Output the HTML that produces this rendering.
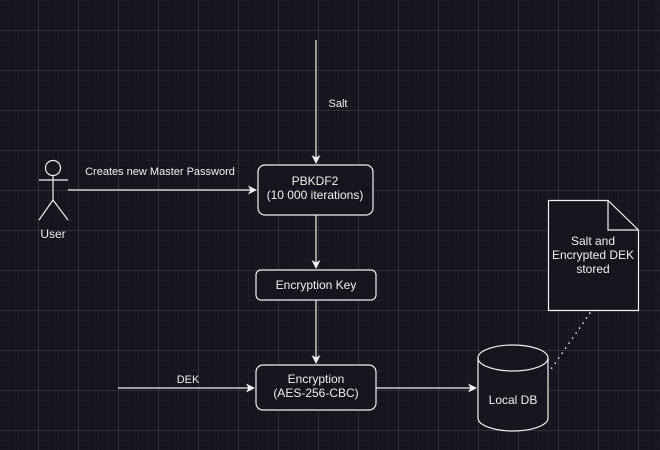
<!DOCTYPE html>
<html><head><meta charset="utf-8"><style>
html,body{margin:0;padding:0;background:#18141d;}
svg{display:block}
text{font-family:"Liberation Sans",Arial,sans-serif;fill:#f0f0f0;}
</style></head><body>
<svg width="660" height="450" viewBox="0 0 660 450" xmlns="http://www.w3.org/2000/svg">
<defs>
<pattern id="minor" x="-2" y="0" width="10" height="10" patternUnits="userSpaceOnUse">
<path d="M0 0H10M0 0V10" stroke="#26222b" stroke-width="1" fill="none"/>
</pattern>
<pattern id="major" x="38" y="30" width="40" height="40" patternUnits="userSpaceOnUse">
<path d="M0 0.5H40M0.5 0V40" stroke="#332f38" stroke-width="1" fill="none"/>
</pattern>
<marker id="ar" markerWidth="10" markerHeight="10" refX="8" refY="5" orient="auto" markerUnits="userSpaceOnUse">
<path d="M0 0.5L9 5L0 9.5L2.5 5Z" fill="#f0f0f0"/>
</marker>
</defs>
<rect width="660" height="450" fill="#18141d"/>
<rect width="660" height="450" fill="url(#minor)"/>
<rect width="660" height="450" fill="url(#major)"/>

<g stroke="#f0f0f0" stroke-width="1.2" fill="none">
<line x1="316" y1="40" x2="316" y2="163" marker-end="url(#ar)"/>
<line x1="68" y1="190" x2="256" y2="190" marker-end="url(#ar)"/>
<line x1="316" y1="215" x2="316" y2="268" marker-end="url(#ar)"/>
<line x1="316" y1="300" x2="316" y2="363" marker-end="url(#ar)"/>
<line x1="118" y1="388" x2="254" y2="388" marker-end="url(#ar)"/>
<line x1="376" y1="388" x2="476" y2="388" marker-end="url(#ar)"/>
</g>

<rect x="258" y="165" width="115" height="50" rx="7" fill="#18141d" stroke="#f0f0f0" stroke-width="1.2"/>
<rect x="256" y="270" width="120" height="30" rx="5" fill="#18141d" stroke="#f0f0f0" stroke-width="1.2"/>
<rect x="256" y="365" width="120" height="45" rx="7" fill="#18141d" stroke="#f0f0f0" stroke-width="1.2"/>

<g stroke="#f0f0f0" stroke-width="1.2" fill="none">
<circle cx="53" cy="168" r="7.5"/>
<line x1="53" y1="175.5" x2="53" y2="200"/>
<line x1="39" y1="180" x2="68" y2="180"/>
<line x1="53" y1="200" x2="39" y2="220"/>
<line x1="53" y1="200" x2="68" y2="220"/>
</g>

<path d="M478 358 V418 A35 13 0 0 0 548 418 V358 A35 13 0 0 0 478 358 Z" fill="#18141d" stroke="#f0f0f0" stroke-width="1.2"/>
<path d="M478 358 A35 13 0 0 0 548 358" fill="none" stroke="#f0f0f0" stroke-width="1.2"/>

<path d="M548.5 200.5 H608 L638.5 230 V310.5 H548.5 Z" fill="#18141d" stroke="#f0f0f0" stroke-width="1.2"/>
<path d="M608 200.5 V230 H638.5" fill="none" stroke="#f0f0f0" stroke-width="1.2"/>

<line x1="590" y1="313" x2="549" y2="372" stroke="#f0f0f0" stroke-width="1.6" stroke-dasharray="0.1 6" stroke-linecap="round"/>

<g font-size="11" text-anchor="middle">
<text x="338" y="107">Salt</text>
<text x="160" y="175">Creates new Master Password</text>
<text x="188" y="383">DEK</text>
<text x="315" y="185" font-size="12">PBKDF2</text>
<text x="315" y="199" font-size="12">(10 000 iterations)</text>
<text x="316" y="289" font-size="12">Encryption Key</text>
<text x="316" y="383" font-size="12">Encryption</text>
<text x="316" y="397" font-size="12">(AES-256-CBC)</text>
<text x="513" y="404" font-size="12">Local DB</text>
<text x="53" y="238" font-size="12">User</text>
<text x="593" y="245" font-size="12">Salt and</text>
<text x="593" y="259" font-size="12">Encrypted DEK</text>
<text x="593" y="273" font-size="12">stored</text>
</g>
</svg>
</body></html>
